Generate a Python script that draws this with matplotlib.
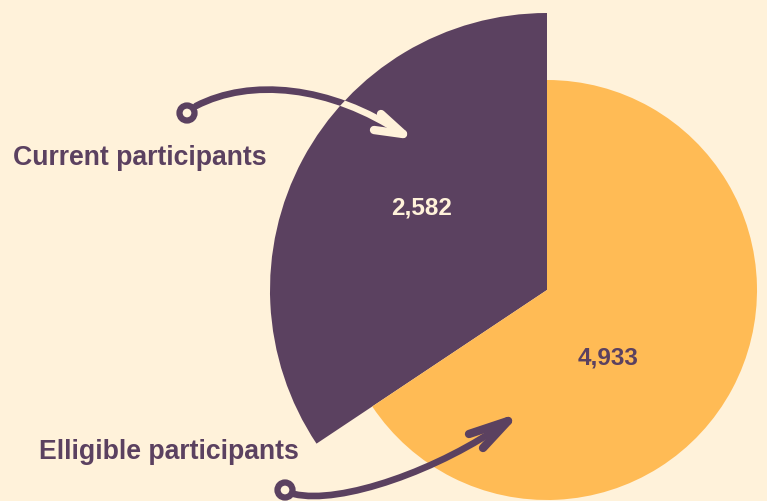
import matplotlib
matplotlib.use("Agg")
import matplotlib.pyplot as plt
from matplotlib.path import Path
from matplotlib.patches import PathPatch, Circle

plt.rcParams['font.family'] = ['Liberation Sans', 'DejaVu Sans']

labels = ["Current participants", "Elligible participants"]
values = [2582, 4933]
value_text = ["2,582", "4,933"]

W, H = 767, 501
bg = "#FFF2DA"
purple = "#5B4160"
orange = "#FFBB55"


def Y(y):
    # image rows -> axis coordinates (y up)
    return H - y


fig = plt.figure(figsize=(W / 100, H / 100), dpi=100, facecolor=bg)
ax = fig.add_axes([0, 0, 1, 1])
ax.set_facecolor(bg)

wedges, _ = ax.pie(values, startangle=90, counterclock=True,
                   colors=[purple, orange], center=(547, Y(290)),
                   radius=210, frame=False)
wedges[0].set_radius(277)

ax.set_xlim(0, W)
ax.set_ylim(0, H)
ax.set_aspect('equal')
ax.axis('off')

# value labels
ax.text(422, Y(214), value_text[0], color=bg, fontsize=17.5,
        fontweight='bold', ha='center', va='baseline')
ax.text(608, Y(364), value_text[1], color=purple, fontsize=17.5,
        fontweight='bold', ha='center', va='baseline')

# category labels
ax.text(13, Y(165), labels[0], color=purple, fontsize=19.2,
        fontweight='bold', ha='left', va='baseline')
ax.text(39, Y(459), labels[1], color=purple, fontsize=19.2,
        fontweight='bold', ha='left', va='baseline')


def arrow(loop, stem, tip, barbs, color, clip=None):
    pts = [(x, Y(y)) for x, y in stem]
    path = Path(pts, [Path.MOVETO, Path.CURVE4, Path.CURVE4, Path.CURVE4])
    arts = [PathPatch(path, fill=False, ec=color, lw=4.8, capstyle='round', zorder=5)]
    for b in barbs:
        hp = Path([(b[0], Y(b[1])), (tip[0], Y(tip[1]))])
        arts.append(PathPatch(hp, fill=False, ec=color, lw=6,
                              capstyle='round', joinstyle='round', zorder=5))
    arts.append(Circle((loop[0], Y(loop[1])), 7.5, fill=False, ec=color,
                       lw=4.5, zorder=5))
    for a in arts:
        ax.add_patch(a)
        if clip is not None:
            a.set_clip_path(clip)


up = dict(loop=(187, 113),
          stem=[(196, 106), (250, 78), (330, 85), (403, 134)],
          tip=(403, 134), barbs=[(381, 114), (374, 130)])
low = dict(loop=(285, 490),
           stem=[(294, 494), (340, 505), (440, 470), (508, 421)],
           tip=(508, 421), barbs=[(469, 434), (483, 448)])

arrow(color=purple, **up)
arrow(color=bg, clip=wedges[0], **up)
arrow(color=purple, **low)

fig.savefig("out.png", dpi=100, facecolor=bg)
